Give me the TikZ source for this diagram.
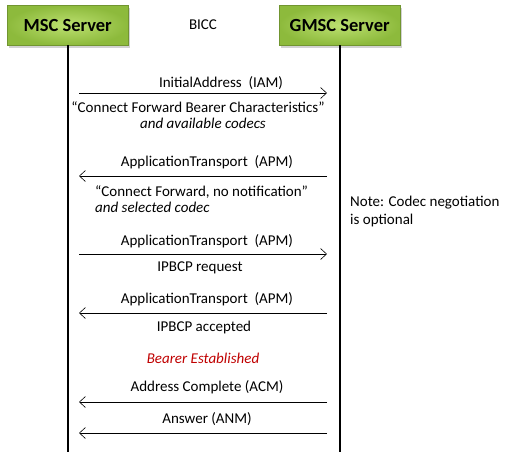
\documentclass[tikz,border=0pt]{standalone}
\usepackage{fontspec}
\setmainfont{Carlito}
\usetikzlibrary{arrows.meta,shadows}
\definecolor{boxtop}{HTML}{BCE070}
\definecolor{boxbot}{HTML}{8DBA3C}
\definecolor{bearer}{HTML}{C00000}
\begin{document}
\begin{tikzpicture}[x=1pt,y=-1pt,
  entity/.style={draw=boxbot!80!black, line width=0.4pt, minimum width=121pt, minimum height=40pt,
    inner color=boxtop, outer color=boxbot, font=\fontsize{18.5}{20}\selectfont\bfseries,
    drop shadow={opacity=0.35, shadow xshift=2pt, shadow yshift=-3pt}, anchor=north west},
  life/.style={line width=2.8pt},
  msg/.style={line width=0.6pt, -{Straight Barb[length=6pt,width=11pt,line width=0.6pt]}},
  lbl/.style={font=\fontsize{15}{17}\selectfont, inner sep=0pt},
  itl/.style={font=\fontsize{15}{17}\selectfont\itshape, inner sep=0pt}]
\useasboundingbox (0,0) rectangle (510,459);
\fill[white] (0,0) rectangle (510,459);
\node[entity] (msc) at (7,5) {MSC Server};
\node[entity] (gmsc) at (279,5) {GMSC Server};
\node[lbl] (bicc) at (203,25) {BICC};
\coordinate (mscend) at (68,452);
\coordinate (gmscend) at (340,452);
\draw[life] (msc.south -| mscend) -- (mscend);
\draw[life] (gmsc.south -| gmscend) -- (gmscend);
% message endpoints
\foreach \n/\y in {a/93,b/176,c/254,d/313,e/402,f/433}{
  \coordinate (L\n) at (79,\y);
  \coordinate (R\n) at (327,\y);
}
\draw[msg] (La) -- (Ra);
\draw[msg] (Rb) -- (Lb);
\draw[msg] (Lc) -- (Rc);
\draw[msg] (Rd) -- (Ld);
\draw[msg] (Re) -- (Le);
\draw[msg] (Rf) -- (Lf);
\node[lbl] (t1) at (221,83) {InitialAddress\ \ (IAM)};
\node[lbl] (t1b) at (198,107) {“Connect Forward Bearer Characteristics”};
\node[itl] (t1c) at (203,123) {and available codecs};
\node[lbl] (t2) at (207,162) {ApplicationTransport\ \ (APM)};
\node[lbl, anchor=west] (t2b) at (95,192) {“Connect Forward, no notification”};
\node[itl, anchor=west] (t2c) at (95,207) {and selected codec};
\node[lbl, anchor=west] (note1) at (350,203) {Note: Codec negotiation};
\node[lbl, anchor=west] (note2) at (350,220) {is optional};
\node[lbl] (t3) at (207,241) {ApplicationTransport\ \ (APM)};
\node[lbl] (t3b) at (200,268) {IPBCP request};
\node[lbl] (t4) at (207,299) {ApplicationTransport\ \ (APM)};
\node[lbl] (t4b) at (204,327) {IPBCP accepted};
\node[itl, text=bearer] (be) at (203,358) {Bearer Established};
\node[lbl] (t5) at (207,387) {Address Complete (ACM)};
\node[lbl] (t6) at (207,419) {Answer (ANM)};
\end{tikzpicture}
\end{document}
